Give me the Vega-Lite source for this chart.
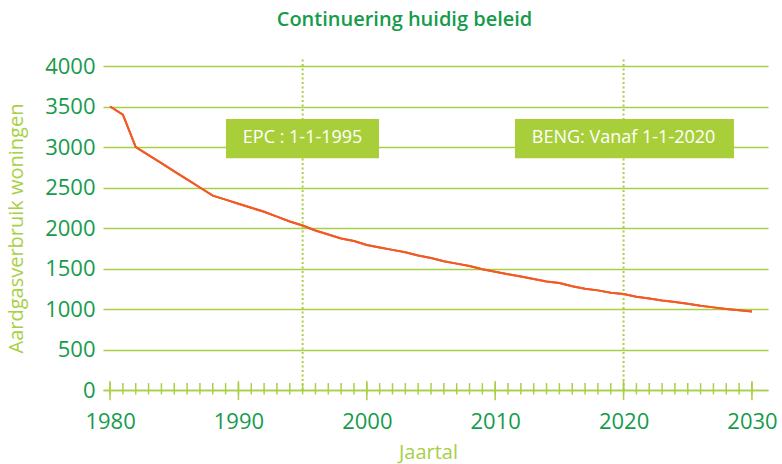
{
  "$schema": "https://vega.github.io/schema/vega-lite/v6.json",
  "width": 665,
  "height": 324,
  "autosize": {"type": "none"},
  "padding": {"left": 103, "top": 66, "right": 14, "bottom": 74},
  "background": "white",
  "config": {"font": "Open Sans", "view": {"stroke": null}},
  "title": {
    "text": "Continuering huidig beleid",
    "fontSize": 20,
    "fontWeight": 600,
    "color": "#169b4c",
    "anchor": "middle",
    "frame": "group",
    "baseline": "alphabetic",
    "offset": 9,
    "dx": -31
  },
  "datasets": {
    "verbruik": [
      {"year": 1980, "value": 3500}, {"year": 1981, "value": 3400}, {"year": 1982, "value": 3000},
      {"year": 1983, "value": 2900}, {"year": 1984, "value": 2800}, {"year": 1985, "value": 2700},
      {"year": 1986, "value": 2600}, {"year": 1987, "value": 2500}, {"year": 1988, "value": 2400},
      {"year": 1989, "value": 2350}, {"year": 1990, "value": 2300}, {"year": 1991, "value": 2250},
      {"year": 1992, "value": 2200}, {"year": 1993, "value": 2140}, {"year": 1994, "value": 2080},
      {"year": 1995, "value": 2030}, {"year": 1996, "value": 1970}, {"year": 1997, "value": 1920},
      {"year": 1998, "value": 1870}, {"year": 1999, "value": 1840}, {"year": 2000, "value": 1790},
      {"year": 2001, "value": 1760}, {"year": 2002, "value": 1730}, {"year": 2003, "value": 1700},
      {"year": 2004, "value": 1660}, {"year": 2005, "value": 1630}, {"year": 2006, "value": 1590},
      {"year": 2007, "value": 1560}, {"year": 2008, "value": 1530}, {"year": 2009, "value": 1490},
      {"year": 2010, "value": 1460}, {"year": 2011, "value": 1430}, {"year": 2012, "value": 1400},
      {"year": 2013, "value": 1370}, {"year": 2014, "value": 1340}, {"year": 2015, "value": 1320},
      {"year": 2016, "value": 1280}, {"year": 2017, "value": 1250}, {"year": 2018, "value": 1230},
      {"year": 2019, "value": 1200}, {"year": 2020, "value": 1185}, {"year": 2021, "value": 1150},
      {"year": 2022, "value": 1130}, {"year": 2023, "value": 1105}, {"year": 2024, "value": 1085},
      {"year": 2025, "value": 1065}, {"year": 2026, "value": 1040}, {"year": 2027, "value": 1020},
      {"year": 2028, "value": 1000}, {"year": 2029, "value": 985}, {"year": 2030, "value": 970}
    ],
    "markers": [
      {"year": 1995, "label": "EPC : 1-1-1995"},
      {"year": 2020, "label": "BENG: Vanaf 1-1-2020"}
    ]
  },
  "layer": [
    {
      "data": {"name": "verbruik"},
      "mark": {"type": "line", "color": "#f15a24", "strokeWidth": 2},
      "encoding": {
        "x": {
          "field": "year", "type": "quantitative",
          "scale": {"domain": [1979.45, 2031.25], "nice": false, "zero": false},
          "axis": {
            "values": [1980, 1990, 2000, 2010, 2020, 2030],
            "format": "d",
            "grid": false,
            "ticks": false,
            "domain": true,
            "domainColor": "#a8cf45",
            "domainWidth": 1.5,
            "labelFontSize": 22,
            "labelColor": "#169b4c",
            "labelPadding": 21,
            "title": "Jaartal",
            "titleColor": "#a8cf45",
            "titleFontSize": 20,
            "titleFontWeight": "normal",
            "titlePadding": 10,
            "titleX": 325
          }
        },
        "y": {
          "field": "value", "type": "quantitative",
          "scale": {"domain": [0, 4000], "nice": false},
          "axis": {
            "values": [0, 500, 1000, 1500, 2000, 2500, 3000, 3500, 4000],
            "format": "d",
            "grid": true,
            "gridColor": "#a8cf45",
            "gridWidth": 1.5,
            "domain": false,
            "ticks": false,
            "labelFontSize": 22,
            "labelColor": "#169b4c",
            "labelPadding": 8,
            "title": "Aardgasverbruik woningen",
            "titleColor": "#a8cf45",
            "titleFontSize": 20,
            "titleFontWeight": "normal",
            "titlePadding": 18
          }
        }
      }
    },
    {
      "data": {"name": "markers"},
      "mark": {"type": "rule", "color": "#a8cf45", "strokeWidth": 2, "strokeDash": [2, 2.5]},
      "encoding": {
        "x": {"field": "year", "type": "quantitative"},
        "y": {"datum": 0},
        "y2": {"datum": 4100}
      }
    },
    {
      "data": {"name": "markers"},
      "transform": [{"filter": "datum.year === 1995"}],
      "mark": {"type": "rect", "color": "#a8cf3a"},
      "encoding": {
        "x": {"datum": 1989.03},
        "x2": {"datum": 2000.95},
        "y": {"datum": 2860},
        "y2": {"datum": 3345}
      }
    },
    {
      "data": {"name": "markers"},
      "transform": [{"filter": "datum.year === 2020"}],
      "mark": {"type": "rect", "color": "#a8cf3a"},
      "encoding": {
        "x": {"datum": 2011.54},
        "x2": {"datum": 2028.6},
        "y": {"datum": 2860},
        "y2": {"datum": 3345}
      }
    },
    {
      "data": {"name": "markers"},
      "mark": {"type": "text", "color": "white", "fontSize": 18, "align": "center", "baseline": "middle"},
      "encoding": {
        "x": {"field": "year", "type": "quantitative"},
        "y": {"datum": 3105},
        "text": {"field": "label"}
      }
    },
    {
      "data": {"name": "verbruik"},
      "mark": {"type": "line", "color": "#f15a24", "strokeWidth": 2},
      "encoding": {
        "x": {"field": "year", "type": "quantitative"},
        "y": {"field": "value", "type": "quantitative"}
      }
    },
    {
      "data": {"name": "verbruik"},
      "mark": {"type": "rule", "color": "#a8cf45", "strokeWidth": 1.5},
      "encoding": {
        "x": {"field": "year", "type": "quantitative"},
        "y": {"datum": -55},
        "y2": {"datum": 85}
      }
    },
    {
      "data": {"name": "verbruik"},
      "transform": [{"filter": "datum.year % 10 === 0"}],
      "mark": {"type": "rule", "color": "#a8cf45", "strokeWidth": 1.5},
      "encoding": {
        "x": {"field": "year", "type": "quantitative"},
        "y": {"datum": -125},
        "y2": {"datum": 110}
      }
    }
  ]
}
